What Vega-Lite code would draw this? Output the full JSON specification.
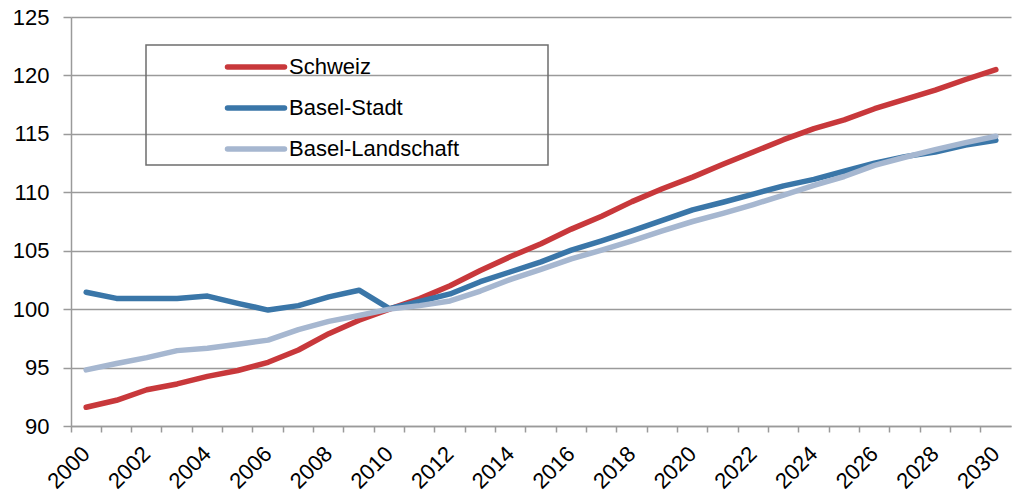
{
  "$schema": "https://vega.github.io/schema/vega-lite/v6.json",
  "width": 940,
  "height": 409,
  "autosize": {"type": "none"},
  "padding": {"left": 71, "top": 17, "right": 1, "bottom": 70},
  "background": "white",
  "config": {"font": "Liberation Sans", "view": {"stroke": null}},
  "data": {
    "values": [
      {"Jahr": "2000", "Schweiz": 91.6, "Basel-Stadt": 101.45, "Basel-Landschaft": 94.8},
      {"Jahr": "2001", "Schweiz": 92.2, "Basel-Stadt": 100.92, "Basel-Landschaft": 95.35},
      {"Jahr": "2002", "Schweiz": 93.1, "Basel-Stadt": 100.92, "Basel-Landschaft": 95.85},
      {"Jahr": "2003", "Schweiz": 93.6, "Basel-Stadt": 100.92, "Basel-Landschaft": 96.45},
      {"Jahr": "2004", "Schweiz": 94.25, "Basel-Stadt": 101.12, "Basel-Landschaft": 96.65},
      {"Jahr": "2005", "Schweiz": 94.75, "Basel-Stadt": 100.5, "Basel-Landschaft": 97.0},
      {"Jahr": "2006", "Schweiz": 95.45, "Basel-Stadt": 99.92, "Basel-Landschaft": 97.35},
      {"Jahr": "2007", "Schweiz": 96.5, "Basel-Stadt": 100.3, "Basel-Landschaft": 98.25},
      {"Jahr": "2008", "Schweiz": 97.9, "Basel-Stadt": 101.05, "Basel-Landschaft": 98.95},
      {"Jahr": "2009", "Schweiz": 99.05, "Basel-Stadt": 101.62, "Basel-Landschaft": 99.45},
      {"Jahr": "2010", "Schweiz": 100.0, "Basel-Stadt": 100.05, "Basel-Landschaft": 100.0},
      {"Jahr": "2011", "Schweiz": 100.9, "Basel-Stadt": 100.65, "Basel-Landschaft": 100.3},
      {"Jahr": "2012", "Schweiz": 102.0, "Basel-Stadt": 101.3, "Basel-Landschaft": 100.7},
      {"Jahr": "2013", "Schweiz": 103.3, "Basel-Stadt": 102.35, "Basel-Landschaft": 101.55},
      {"Jahr": "2014", "Schweiz": 104.5, "Basel-Stadt": 103.2, "Basel-Landschaft": 102.55},
      {"Jahr": "2015", "Schweiz": 105.6, "Basel-Stadt": 104.05, "Basel-Landschaft": 103.4},
      {"Jahr": "2016", "Schweiz": 106.85, "Basel-Stadt": 105.05, "Basel-Landschaft": 104.3},
      {"Jahr": "2017", "Schweiz": 107.95, "Basel-Stadt": 105.85, "Basel-Landschaft": 105.05},
      {"Jahr": "2018", "Schweiz": 109.2, "Basel-Stadt": 106.7, "Basel-Landschaft": 105.85},
      {"Jahr": "2019", "Schweiz": 110.3, "Basel-Stadt": 107.6, "Basel-Landschaft": 106.7},
      {"Jahr": "2020", "Schweiz": 111.3, "Basel-Stadt": 108.5, "Basel-Landschaft": 107.5},
      {"Jahr": "2021", "Schweiz": 112.4, "Basel-Stadt": 109.15, "Basel-Landschaft": 108.2},
      {"Jahr": "2022", "Schweiz": 113.45, "Basel-Stadt": 109.85, "Basel-Landschaft": 108.95},
      {"Jahr": "2023", "Schweiz": 114.5, "Basel-Stadt": 110.55, "Basel-Landschaft": 109.75},
      {"Jahr": "2024", "Schweiz": 115.45, "Basel-Stadt": 111.1, "Basel-Landschaft": 110.6},
      {"Jahr": "2025", "Schweiz": 116.2, "Basel-Stadt": 111.8, "Basel-Landschaft": 111.35},
      {"Jahr": "2026", "Schweiz": 117.15, "Basel-Stadt": 112.5, "Basel-Landschaft": 112.3},
      {"Jahr": "2027", "Schweiz": 117.95, "Basel-Stadt": 113.05, "Basel-Landschaft": 113.0},
      {"Jahr": "2028", "Schweiz": 118.75, "Basel-Stadt": 113.45, "Basel-Landschaft": 113.65},
      {"Jahr": "2029", "Schweiz": 119.65, "Basel-Stadt": 114.05, "Basel-Landschaft": 114.25},
      {"Jahr": "2030", "Schweiz": 120.5, "Basel-Stadt": 114.45, "Basel-Landschaft": 114.8}
    ]
  },
  "transform": [
    {"fold": ["Schweiz", "Basel-Stadt", "Basel-Landschaft"], "as": ["Region", "Index"]}
  ],
  "mark": {"type": "line", "strokeWidth": 5.5, "strokeCap": "round", "strokeJoin": "round"},
  "encoding": {
    "x": {
      "field": "Jahr",
      "type": "ordinal",
      "scale": {"type": "band", "paddingInner": 0, "paddingOuter": -0.06, "align": 0},
      "axis": {
        "title": null,
        "bandPosition": 0,
        "grid": false,
        "domainColor": "#9a9a9a",
        "domainWidth": 1.5,
        "tickColor": "#9a9a9a",
        "tickWidth": 1.5,
        "tickSize": 6,
        "labelAngle": -45,
        "labelAlign": "right",
        "labelBaseline": "middle",
        "labelPadding": 18,
        "labelFontSize": 22,
        "labelColor": "#000000",
        "labelExpr": "toNumber(datum.value) % 2 == 0 ? datum.value : ''"
      }
    },
    "y": {
      "field": "Index",
      "type": "quantitative",
      "scale": {"domain": [90, 125], "nice": false, "zero": false},
      "axis": {
        "title": null,
        "values": [90, 95, 100, 105, 110, 115, 120, 125],
        "grid": true,
        "gridColor": "#9a9a9a",
        "gridWidth": 1.5,
        "domainColor": "#9a9a9a",
        "domainWidth": 1.5,
        "tickColor": "#9a9a9a",
        "tickWidth": 1.5,
        "tickSize": 8,
        "labelPadding": 14,
        "labelFontSize": 22,
        "labelColor": "#000000"
      }
    },
    "color": {
      "field": "Region",
      "type": "nominal",
      "scale": {
        "domain": ["Schweiz", "Basel-Stadt", "Basel-Landschaft"],
        "range": ["#c8383b", "#3a76a8", "#a6b7d0"]
      },
      "legend": {
        "orient": "none",
        "legendX": 75,
        "legendY": 28,
        "title": " ",
        "titleOrient": "right",
        "titleFontSize": 1,
        "titlePadding": 84,
        "padding": 5,
        "strokeColor": "#6e6e6e",
        "rowPadding": 13,
        "symbolType": "M-2,0H2",
        "symbolSize": 812,
        "symbolStrokeWidth": 5.5,
        "symbolOffset": 88,
        "labelOffset": 16,
        "labelLimit": 400,
        "labelFontSize": 22,
        "labelColor": "#000000",
        "encode": {
          "legend": {"update": {"strokeWidth": {"value": 1.5}}},
          "symbols": {"update": {"strokeCap": {"value": "round"}}}
        }
      }
    }
  }
}
